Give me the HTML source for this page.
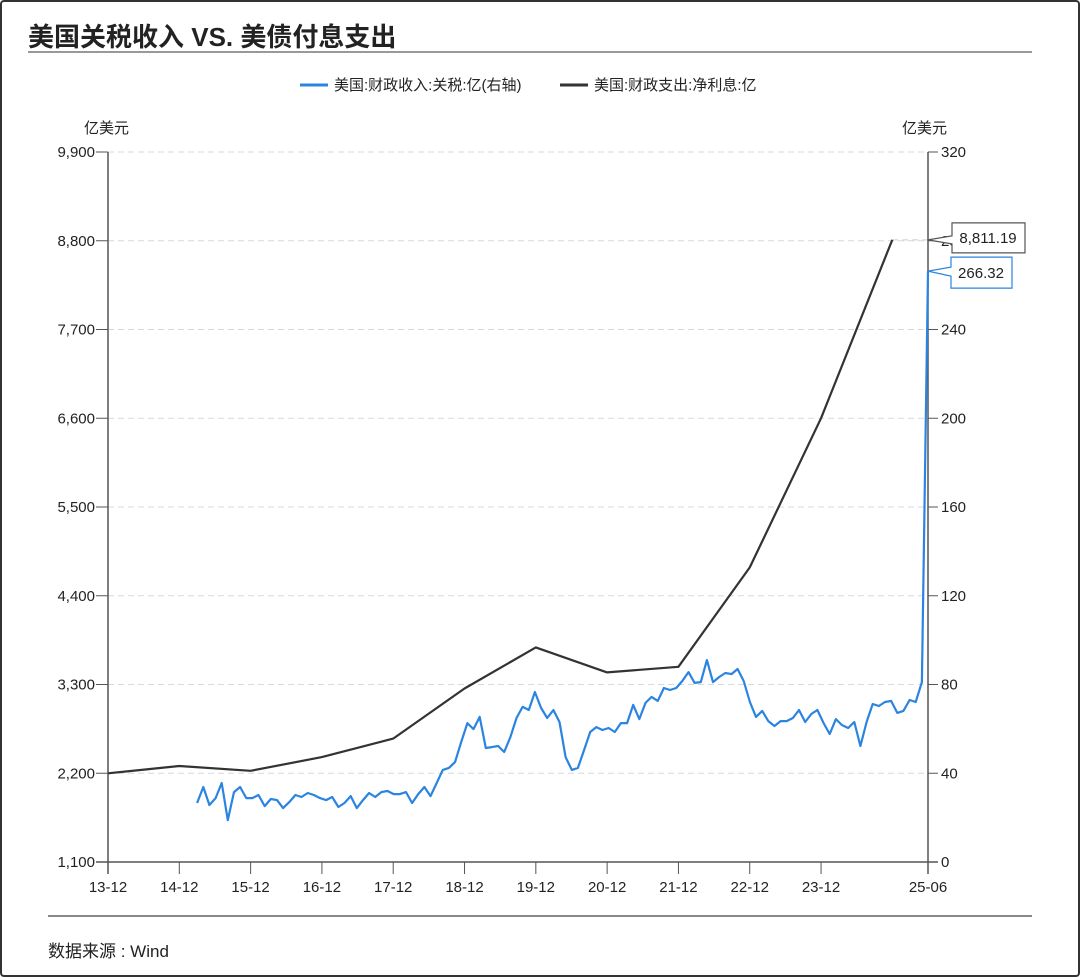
<!DOCTYPE html>
<html><head><meta charset="utf-8">
<style>
html,body{margin:0;padding:0;background:#fff;}
#wrap{position:relative;width:1080px;height:977px;overflow:hidden;font-family:"Liberation Sans","Noto Sans CJK SC",sans-serif;}
#frame{position:absolute;left:0;top:0;width:1076px;height:973px;border:2px solid #333;border-radius:4px;}
svg text{font-family:"Liberation Sans","Noto Sans CJK SC",sans-serif;}
</style></head>
<body>
<div id="wrap">
<div id="frame"></div>
<svg id="chart" width="1080" height="977" style="position:absolute;left:0;top:0">
  <text x="28" y="46" font-size="26" font-weight="bold" fill="#222">美国关税收入 VS. 美债付息支出</text>
  <line x1="28" y1="52" x2="1032" y2="52" stroke="#999" stroke-width="2"/>
  <g>
    <g>
      <line x1="300" y1="85" x2="328" y2="85" stroke="#2b84e0" stroke-width="3"/>
      <text x="334" y="90" font-size="15" fill="#222">美国:财政收入:关税:亿(右轴)</text>
    </g>
    <g>
      <line x1="560" y1="85" x2="588" y2="85" stroke="#333" stroke-width="3"/>
      <text x="594" y="90" font-size="15" fill="#222">美国:财政支出:净利息:亿</text>
    </g>
  </g>
  <text x="84" y="133" font-size="15" fill="#222">亿美元</text>
  <text x="902" y="133" font-size="15" fill="#222">亿美元</text>
  <g id="grid"></g>
  <g id="axes"></g>
  <g id="series"></g>
  <g id="callouts"></g>
  <line x1="48" y1="916" x2="1032" y2="916" stroke="#888" stroke-width="2"/>
  <text x="48" y="957" font-size="17" fill="#222">数据来源 : Wind</text>
</svg>
</div>
<script>
const xTickLabels = ["13-12","14-12","15-12","16-12","17-12","18-12","19-12","20-12","21-12","22-12","23-12","25-06"];
const xTickMonths = [0,12,24,36,48,60,72,84,96,108,120,138];
const leftTicks = [1100,2200,3300,4400,5500,6600,7700,8800,9900];
const rightTicks = [0,40,80,120,160,200,240,280,320];
const interestMonths = [0,12,24,36,48,60,72,84,96,108,120,132];
const interestValues = [2200,2290,2230,2400,2630,3250,3760,3450,3520,4750,6600,8811.19];
const tariffStartMonth = 15;
const tariffEndMonth = 138;
const tariffValues = [26.6,33.8,25.7,28.8,35.6,18.9,31.5,33.8,28.8,28.8,30.2,25.2,28.4,27.9,24.3,27.0,30.2,29.3,31.1,30.2,28.8,27.9,29.3,24.8,26.6,29.7,24.3,27.9,31.1,29.3,31.5,32.0,30.6,30.6,31.5,26.6,30.6,33.8,29.7,35.6,41.5,42.4,45.1,54.1,62.6,59.9,65.4,51.4,51.8,52.3,49.6,56.3,64.9,69.9,68.5,76.6,69.4,64.9,68.5,63.1,47.3,41.5,42.4,50.5,58.6,60.8,59.5,60.4,58.6,62.6,62.6,70.8,64.4,71.7,74.4,72.6,78.4,77.5,78.4,81.6,85.6,80.7,81.1,91.0,81.1,83.4,85.2,84.7,87.0,81.6,72.1,65.4,68.1,63.5,61.3,63.5,63.5,64.9,68.5,63.1,66.7,68.5,62.6,57.7,64.4,61.7,60.4,63.1,52.3,63.1,71.2,70.3,72.1,72.6,67.2,68.1,73.0,72.1,81.1,266.32];

const X0=108,X1=928,Y0=862,Y1=152;
const xS=m=>X0+(m/138)*(X1-X0);
const yL=v=>Y0-(v-1100)/(9900-1100)*(Y0-Y1);
const yR=v=>Y0-v/320*(Y0-Y1);
const NS="http://www.w3.org/2000/svg";
function mk(tag,attrs,parent){const e=document.createElementNS(NS,tag);for(const k in attrs)e.setAttribute(k,attrs[k]);parent.appendChild(e);return e;}
const fmt=v=>v.toLocaleString("en-US");
const grid=document.getElementById("grid"),axes=document.getElementById("axes"),series=document.getElementById("series"),call=document.getElementById("callouts");

leftTicks.forEach((v,i)=>{
  const y=yL(v);
  if(i>0){const g=mk("line",{x1:X0,y1:y,x2:X1,y2:y,stroke:"#d8d8d8","stroke-dasharray":"6,4"},grid);
  
  }
  mk("line",{x1:X0-12,y1:y,x2:X0,y2:y,stroke:"#555"},axes);
  const t=mk("text",{x:X0-13,y:y+5,"font-size":15,"text-anchor":"end",fill:"#222"},axes);
  t.textContent=fmt(v);
  
  
});
rightTicks.forEach(v=>{
  const y=yR(v);
  mk("line",{x1:X1,y1:y,x2:X1+10,y2:y,stroke:"#555"},axes);
  const t=mk("text",{x:X1+13,y:y+5,"font-size":15,fill:"#222"},axes);
  t.textContent=v;
  
  
});
mk("line",{x1:X0,y1:Y1,x2:X0,y2:Y0+12,stroke:"#555","stroke-width":1.5},axes);
mk("line",{x1:X1,y1:Y1,x2:X1,y2:Y0+12,stroke:"#555","stroke-width":1.5},axes);
mk("line",{x1:X0-12,y1:Y0,x2:X1+10,y2:Y0,stroke:"#555","stroke-width":1.5},axes);
xTickMonths.forEach((m,i)=>{
  const x=xS(m);
  mk("line",{x1:x,y1:Y0,x2:x,y2:Y0+12,stroke:"#555"},axes);
  const t=mk("text",{x:x,y:Y0+30,"font-size":15,"text-anchor":"middle",fill:"#222"},axes);
  t.textContent=xTickLabels[i];
  
  
});

const ip=interestValues.map((v,i)=>xS(interestMonths[i]).toFixed(1)+","+yL(v).toFixed(1)).join(" ");
const l1=mk("polyline",{points:ip,fill:"none",stroke:"#333","stroke-width":2.2,"stroke-linejoin":"round"},series);


const n=tariffValues.length;
const tp=tariffValues.map((v,i)=>xS(tariffStartMonth+i*(tariffEndMonth-tariffStartMonth)/(n-1)).toFixed(1)+","+yR(v).toFixed(1)).join(" ");
const l2=mk("polyline",{points:tp,fill:"none",stroke:"#2b84e0","stroke-width":2.2,"stroke-linejoin":"round"},series);



const lastI=interestValues[interestValues.length-1], lastT=tariffValues[n-1];
const yi=yL(lastI), yt=yR(lastT);
mk("line",{x1:xS(interestMonths[interestMonths.length-1]),y1:yi,x2:X1,y2:yi,stroke:"#ccc","stroke-dasharray":"6,4"},grid);
const c1=mk("g",{},call);


mk("path",{d:`M${X1},${yi} L952,${yi-4} L952,${yi-17} L1025,${yi-17} L1025,${yi+13} L952,${yi+13} L952,${yi+4} Z`,fill:"#fff",stroke:"#555","stroke-width":1.2},c1);
const t1=mk("text",{x:988,y:yi+3,"font-size":15,"text-anchor":"middle",fill:"#222"},c1);
t1.textContent=lastI.toLocaleString("en-US",{minimumFractionDigits:2});
const c2=mk("g",{},call);


mk("path",{d:`M${X1},${yt} L951,${yt-4} L951,${yt-14} L1012,${yt-14} L1012,${yt+17} L951,${yt+17} L951,${yt+5} Z`,fill:"#fff",stroke:"#2b84e0","stroke-width":1.2},c2);
const t2=mk("text",{x:981,y:yt+7,"font-size":15,"text-anchor":"middle",fill:"#222"},c2);
t2.textContent=lastT.toFixed(2);
</script>
</body></html>
